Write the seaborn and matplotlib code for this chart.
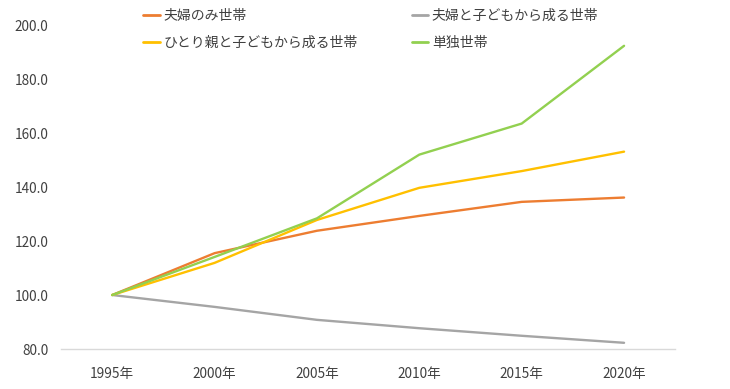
import matplotlib
matplotlib.use("Agg")
import matplotlib.pyplot as plt
import pandas as pd
import seaborn as sns

# data (1995 = 100)
years = ["1995年", "2000年", "2005年", "2010年", "2015年", "2020年"]
couple_only = [100.0, 115.5, 123.8, 129.3, 134.5, 136.1]
couple_children = [100.0, 95.6, 90.8, 87.7, 84.9, 82.3]
single_parent = [100.0, 111.9, 127.8, 139.7, 145.9, 153.1]
single = [100.0, 114.1, 128.4, 152.0, 163.5, 192.3]

series_names = ["夫婦のみ世帯", "夫婦と子どもから成る世帯", "ひとり親と子どもから成る世帯", "単独世帯"]
series_values = [couple_only, couple_children, single_parent, single]
colors = ["#ED7D31", "#A5A5A5", "#FFC000", "#92D050"]

rows = []
for name, vals in zip(series_names, series_values):
    for i, (yr, v) in enumerate(zip(years, vals)):
        rows.append({"pos": i, "year": yr, "value": v, "series": name})
df = pd.DataFrame(rows)

sns.set_theme(style="white")
plt.rcParams["font.family"] = ["Noto Sans CJK JP", "DejaVu Sans"]

fig = plt.figure(figsize=(7.3, 3.89), dpi=100)
ax = fig.add_axes([0.0836, 0.1028, 0.8414, 0.8329])

sns.lineplot(data=df, x="pos", y="value", hue="series", hue_order=series_names,
             palette=dict(zip(series_names, colors)), linewidth=1.7, ax=ax,
             legend=False, sort=False)

ax.set_xlim(-0.5, 5.5)
ax.set_ylim(80, 200)
ax.set_xticks(range(len(years)))
ax.set_xticklabels(years)
ax.set_yticks(range(80, 201, 20))
ax.set_yticklabels([f"{v:.1f}" for v in range(80, 201, 20)])
ax.set_xlabel("")
ax.set_ylabel("")
ax.tick_params(axis="both", length=0, labelsize=9.8, colors="#404040")
ax.tick_params(axis="x", pad=13)
ax.tick_params(axis="y", pad=9)
for s in ["left", "right", "top"]:
    ax.spines[s].set_visible(False)
ax.spines["bottom"].set_color("#D9D9D9")
ax.spines["bottom"].set_linewidth(1.0)

# legend: 2 columns, order fills column-major
handles = [plt.Line2D([], [], color=c, linewidth=2) for c in colors]
order = [0, 2, 1, 3]
fig.legend([handles[i] for i in order], [series_names[i] for i in order],
           loc="upper left", bbox_to_anchor=(0.179, 1.01), ncol=2, frameon=False,
           fontsize=10, handlelength=1.2, handletextpad=0.25,
           columnspacing=3.9, labelspacing=0.95, labelcolor="#404040")

fig.savefig("out.png", dpi=100)
